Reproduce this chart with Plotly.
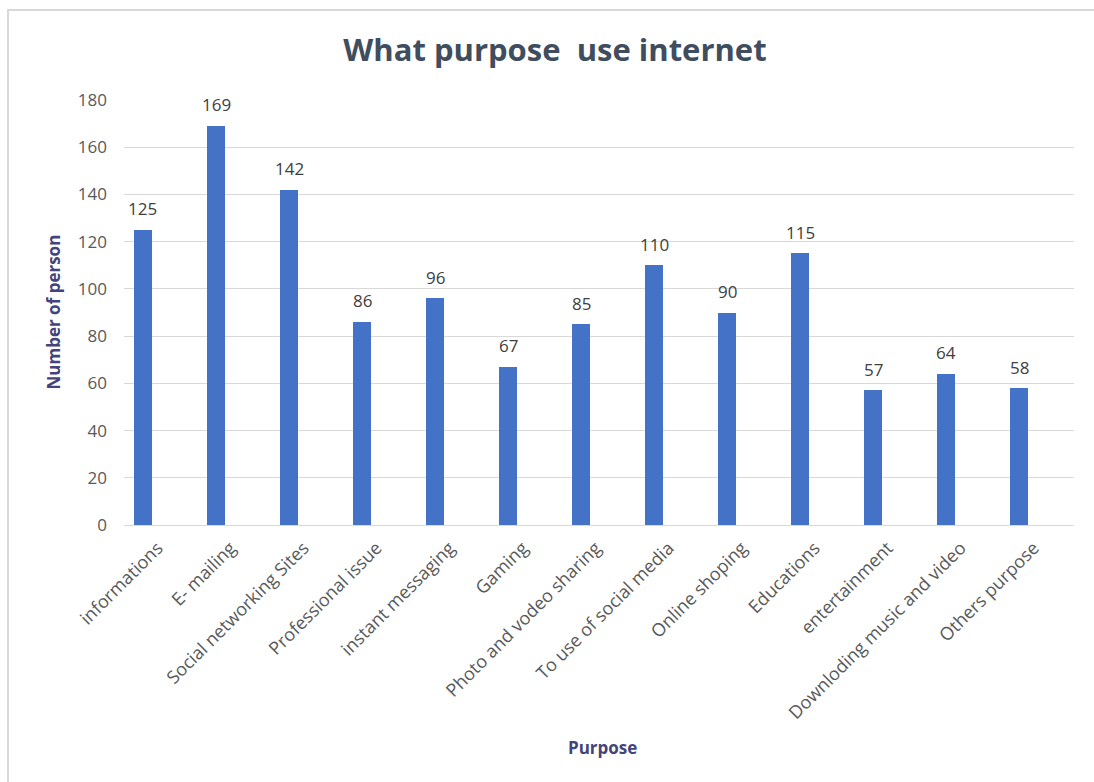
import plotly.graph_objects as go

categories = ["informations", "E- mailing", "Social networking Sites", "Professional issue",
              "instant messaging", "Gaming", "Photo and vodeo sharing", "To use of social media",
              "Online shoping", "Educations", "entertainment", "Downloding music and video",
              "Others purpose"]
values = [125, 169, 142, 86, 96, 67, 85, 110, 90, 115, 57, 64, 58]
y_ticks = [0, 20, 40, 60, 80, 100, 120, 140, 160, 180]

FONT = "Open Sans"
W, H = 1094, 782
L, R, T, B = 124, 20, 100, 257
pw, ph = W - L - R, H - T - B

def px_x(px):
    return (px - L) / pw

def px_y(py):
    return (H - B - py) / ph

idx = list(range(len(categories)))

fig = go.Figure()
fig.add_trace(go.Bar(
    x=idx, y=values,
    width=0.246,
    marker=dict(color="#4472c6", line=dict(width=0)),
    hoverinfo="y",
))

annotations = []
for i, v in enumerate(values):
    annotations.append(dict(x=i, y=v, xref="x", yref="y", text=str(v), showarrow=False,
                            yanchor="middle", yshift=21,
                            font=dict(family=FONT, size=17, color="#404040")))
annotations.append(dict(x=px_x(53), y=0.5, xref="paper", yref="paper", text="<b>Number of person</b>",
                        textangle=-90, showarrow=False, xanchor="center", yanchor="middle",
                        font=dict(family=FONT, size=17, color="#44447a")))
annotations.append(dict(x=px_x(602), y=px_y(747), xref="paper", yref="paper", text="<b>Purpose</b>",
                        showarrow=False, xanchor="center", yanchor="middle",
                        font=dict(family=FONT, size=17, color="#44447a")))

shapes = [
    dict(type="line", xref="paper", yref="paper", x0=px_x(7), x1=px_x(1100), y0=px_y(10), y1=px_y(10),
         line=dict(color="#d9d9d9", width=2)),
    dict(type="line", xref="paper", yref="paper", x0=px_x(8), x1=px_x(8), y0=px_y(10), y1=px_y(790),
         line=dict(color="#d9d9d9", width=2)),
]

fig.update_layout(
    width=W, height=H,
    margin=dict(l=L, r=R, t=T, b=B),
    paper_bgcolor="white", plot_bgcolor="white",
    showlegend=False,
    title=dict(text="<b>What purpose  use internet</b>", x=555 / W, y=1 - 50 / H,
               xanchor="center", yanchor="middle",
               font=dict(family=FONT, size=31, color="#404d5e")),
    xaxis=dict(tickmode="array", tickvals=[i + 0.2 for i in idx], ticktext=categories,
               range=[-0.26, 12.75], tickangle=-45, showgrid=False, showline=False, zeroline=False,
               ticks="", ticklabelstandoff=8,
               tickfont=dict(family=FONT, size=18, color="#595959")),
    yaxis=dict(range=[0, 180], tickmode="array", tickvals=y_ticks, showgrid=True,
               gridcolor="#d9d9d9", gridwidth=1, zeroline=True, zerolinecolor="#d9d9d9",
               zerolinewidth=1, showline=False, ticks="", ticklabelstandoff=16,
               tickfont=dict(family=FONT, size=17, color="#595959")),
    annotations=annotations,
    shapes=shapes,
    bargap=0,
)

fig.write_html("out.html")
